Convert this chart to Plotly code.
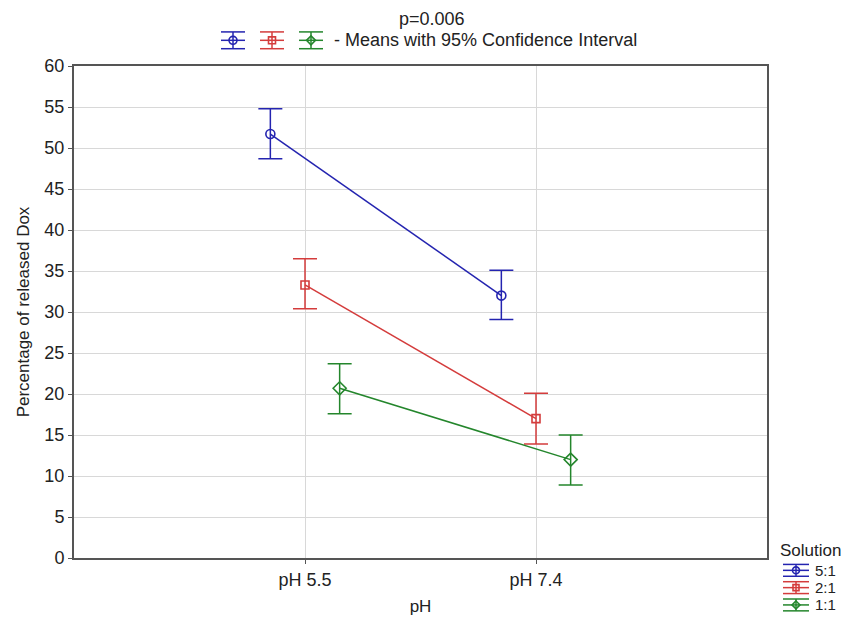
import plotly.graph_objects as go

# ---- data ----
categories = ["pH 5.5", "pH 7.4"]
series_names = ["5:1", "2:1", "1:1"]
means = {
    "5:1": [51.7, 32.0],
    "2:1": [33.3, 17.0],
    "1:1": [20.7, 12.0],
}
ci_upper = {
    "5:1": [54.8, 35.1],
    "2:1": [36.5, 20.1],
    "1:1": [23.7, 15.0],
}
ci_lower = {
    "5:1": [48.7, 29.1],
    "2:1": [30.4, 13.9],
    "1:1": [17.6, 8.9],
}
offsets = [-0.15, 0.0, 0.15]
colors = ["#2424b0", "#d43c3c", "#24862c"]
symbols = ["circle-open", "square-open", "diamond-open"]
msizes = [9, 8, 10]
y_ticks = list(range(0, 61, 5))

FONT = "Arial, Liberation Sans, sans-serif"

# layout geometry (pixels)
W, H = 846, 625
ML, MR, MT, MB = 74, 79, 66, 61
PW, PH = W - ML - MR, H - MT - MB


def px(xp):
    return (xp - ML) / PW


def py(yp):
    return (H - MB - yp) / PH


fig = go.Figure()
for i, name in enumerate(series_names):
    xs = [k + offsets[i] for k in range(len(categories))]
    m = means[name]
    up = [u - v for u, v in zip(ci_upper[name], m)]
    lo = [v - l for v, l in zip(m, ci_lower[name])]
    fig.add_trace(go.Scatter(
        x=xs, y=m, name=name, mode="lines+markers",
        line=dict(color=colors[i], width=1.5),
        marker=dict(symbol=symbols[i], size=msizes[i], color=colors[i],
                    line=dict(width=1.6, color=colors[i])),
        error_y=dict(type="data", symmetric=False, array=up, arrayminus=lo,
                     color=colors[i], thickness=1.5, width=12),
        showlegend=False,
    ))

shapes = []
annotations = []


def icon(cx, cy, half, cap, color, sym, r):
    x0, x1 = px(cx - half), px(cx + half)
    for dy in (-cap, 0, cap):
        shapes.append(dict(type="line", xref="paper", yref="paper",
                           x0=x0, x1=x1, y0=py(cy + dy), y1=py(cy + dy),
                           line=dict(color=color, width=1.5)))
    shapes.append(dict(type="line", xref="paper", yref="paper",
                       x0=px(cx), x1=px(cx), y0=py(cy - cap), y1=py(cy + cap),
                       line=dict(color=color, width=1.5)))
    if sym.startswith("circle"):
        shapes.append(dict(type="circle", xref="paper", yref="paper",
                           x0=px(cx - r), x1=px(cx + r), y0=py(cy + r), y1=py(cy - r),
                           line=dict(color=color, width=1.6), fillcolor="rgba(0,0,0,0)"))
    elif sym.startswith("square"):
        rr = r - 0.5
        shapes.append(dict(type="rect", xref="paper", yref="paper",
                           x0=px(cx - rr), x1=px(cx + rr), y0=py(cy + rr), y1=py(cy - rr),
                           line=dict(color=color, width=1.6), fillcolor="rgba(0,0,0,0)"))
    else:
        rr = r + 0.5
        path = "M {} {} L {} {} L {} {} L {} {} Z".format(
            px(cx), py(cy - rr), px(cx + rr), py(cy), px(cx), py(cy + rr), px(cx - rr), py(cy))
        shapes.append(dict(type="path", xref="paper", yref="paper", path=path,
                           line=dict(color=color, width=1.6), fillcolor="rgba(0,0,0,0)"))


# top legend icons
for i, cx in enumerate([233, 272, 311]):
    icon(cx, 40, 12, 8.5, colors[i], symbols[i], 4)

annotations.append(dict(text="p=0.006", xref="paper", yref="paper", x=px(432), y=py(18),
                        xanchor="center", yanchor="middle", showarrow=False,
                        font=dict(family=FONT, size=18, color="#222")))
annotations.append(dict(text="- Means with 95% Confidence Interval", xref="paper", yref="paper",
                        x=px(332), y=py(40), xanchor="left", yanchor="middle", showarrow=False,
                        font=dict(family=FONT, size=18, color="#222")))

# bottom-right legend
annotations.append(dict(text="Solution", xref="paper", yref="paper", x=px(778), y=py(556),
                        xanchor="left", yanchor="middle", showarrow=False,
                        font=dict(family=FONT, size=17, color="#222")))
for i, name in enumerate(series_names):
    cy = 576.5 + 17.5 * i
    icon(796, cy, 13, 6, colors[i], symbols[i], 3.5)
    annotations.append(dict(text=name, xref="paper", yref="paper", x=px(814), y=py(cy),
                            xanchor="left", yanchor="middle", showarrow=False,
                            borderpad=0,
                            font=dict(family=FONT, size=15, color="#222")))

fig.update_layout(
    width=W, height=H,
    margin=dict(l=ML, r=MR, t=MT, b=MB, pad=0),
    paper_bgcolor="white", plot_bgcolor="white",
    font=dict(family=FONT, size=18, color="#222"),
    shapes=shapes, annotations=annotations,
    xaxis=dict(
        range=[-1, 2], tickmode="array", tickvals=list(range(len(categories))),
        ticktext=categories, showgrid=True, gridcolor="#d8d8d8", gridwidth=1,
        zeroline=False, showline=True, linecolor="#555", linewidth=2, mirror=True,
        ticks="outside", ticklen=4, tickcolor="#555",
        title=dict(text="pH", font=dict(family=FONT, size=17, color="#222"), standoff=12),
    ),
    yaxis=dict(
        range=[0, 60], tickmode="array", tickvals=y_ticks,
        showgrid=True, gridcolor="#d8d8d8", gridwidth=1,
        zeroline=False, showline=True, linecolor="#555", linewidth=2, mirror=True,
        ticks="outside", ticklen=4, tickcolor="#555",
        title=dict(text="Percentage of released Dox", font=dict(family=FONT, size=17, color="#222"),
                   standoff=10),
    ),
)

fig.write_html("out.html", config={"displayModeBar": False},
               post_script="document.body.style.margin='0';document.body.style.overflow='hidden';")
